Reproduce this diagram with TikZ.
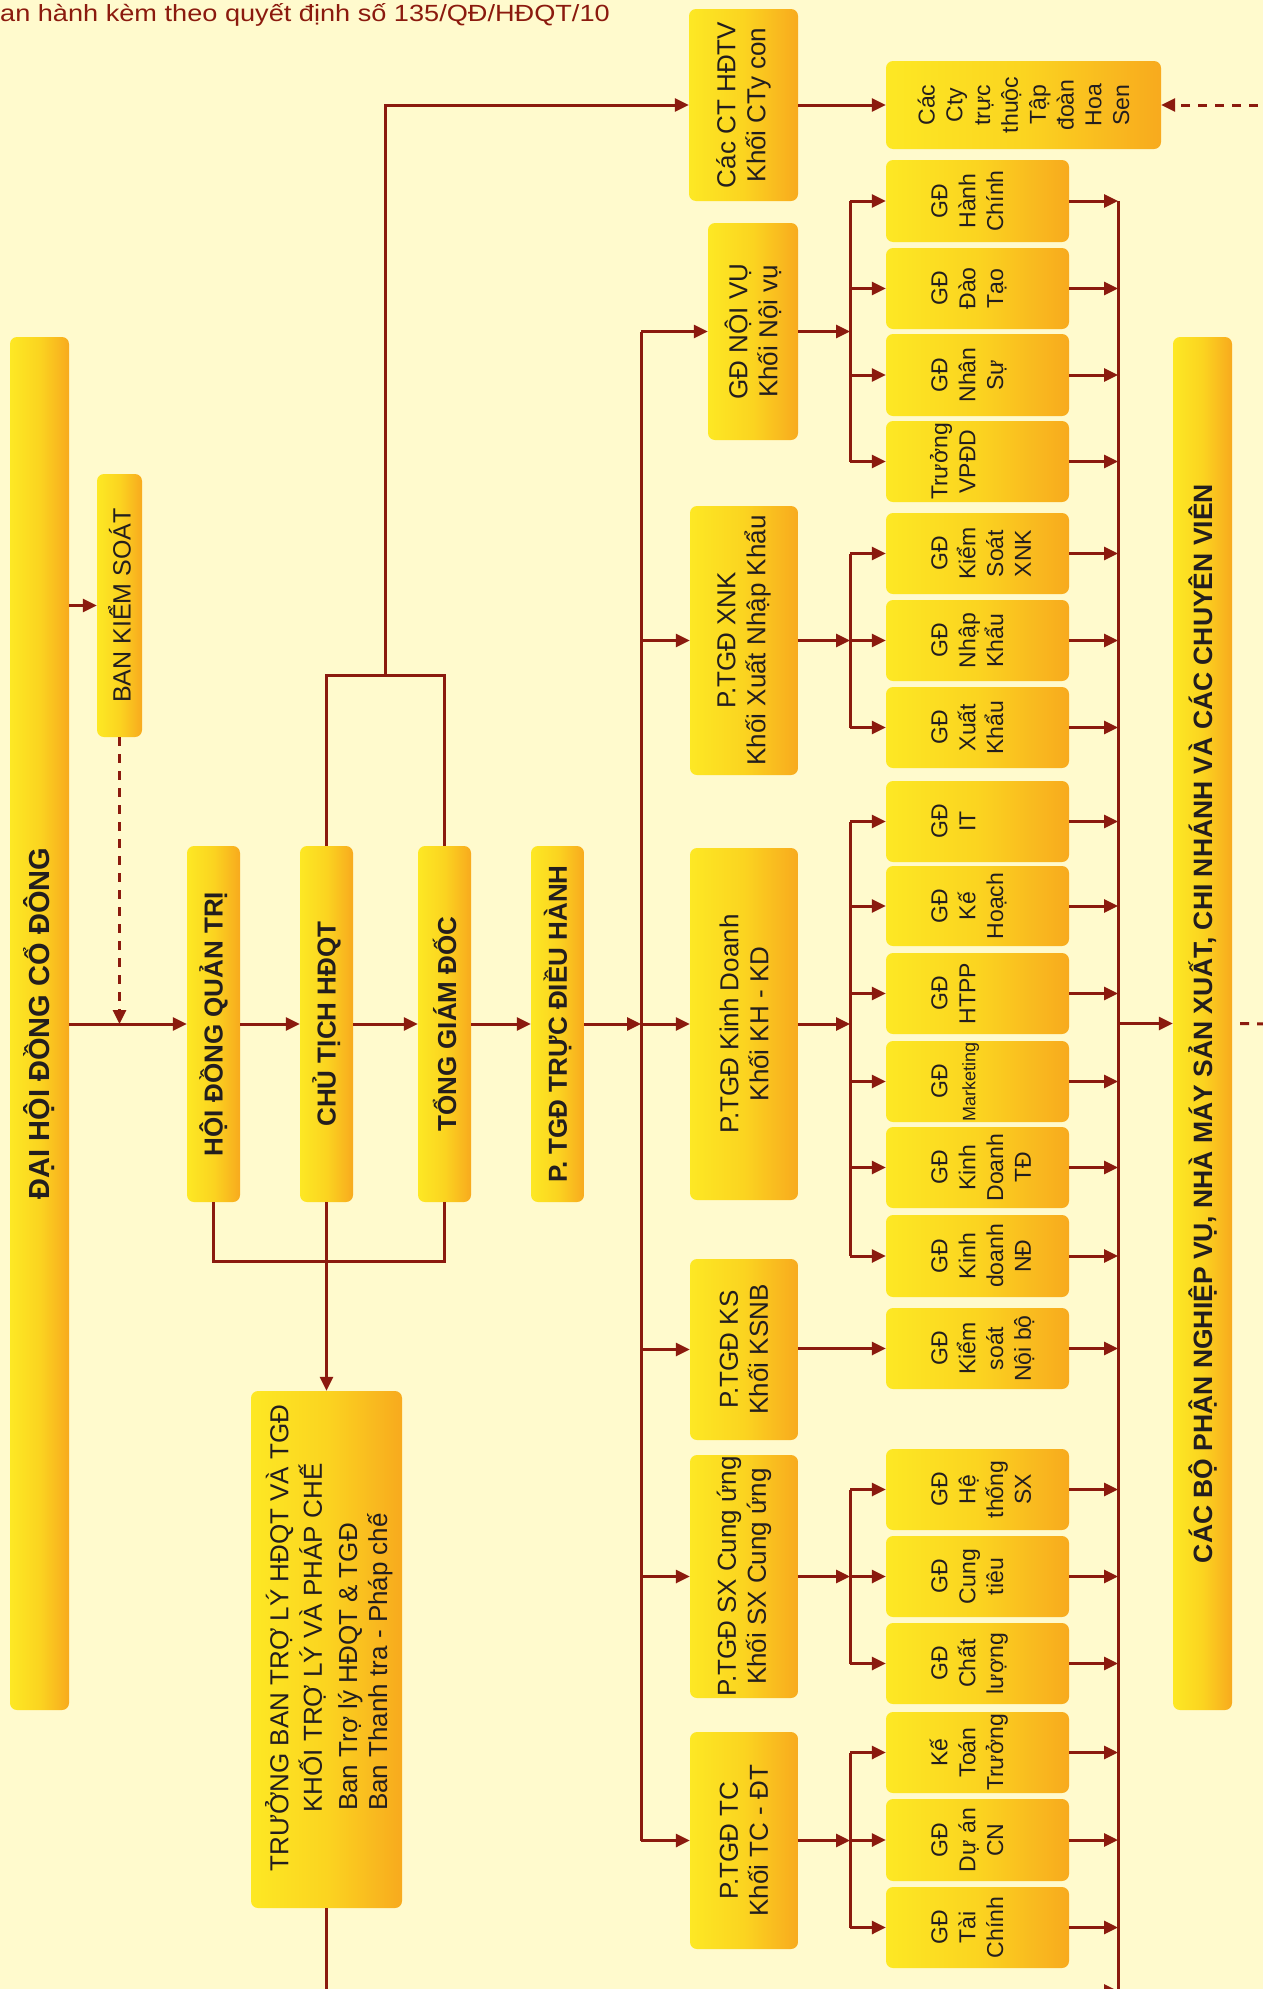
\documentclass[tikz,border=0pt]{standalone}
\usepackage{fontspec}
\setmainfont{Liberation Sans}
\newfontfamily\hdrfont[FakeStretch=1.16]{Liberation Sans}
\usetikzlibrary{arrows.meta}
\definecolor{bgc}{RGB}{255,250,205}
\definecolor{dred}{RGB}{139,26,14}
\definecolor{ylw}{RGB}{253,232,36}
\definecolor{ymid}{RGB}{251,212,32}
\definecolor{org}{RGB}{248,170,30}
\definecolor{txtc}{RGB}{35,30,30}
\newcommand\mkbox[5]{\node[yb, minimum width={(#3-#2)*1pt}, minimum height={(#5-#4)*1pt}] (#1) at ({(#2+#3)/2},{(#4+#5)/2}) {};}
\newcommand\subtxt[2]{\node[subt, anchor=north] at ([xshift=42pt]#1.west) {\strut #2};}
\begin{document}
\begin{tikzpicture}[x=1pt,y=-1pt,
  yb/.style={rectangle, rounded corners=7pt, draw=none, inner sep=0pt, left color=ylw, right color=org, middle color=ymid},
  boldt/.style={text=txtc, rotate=90, inner sep=0pt, font=\fontsize{26}{30}\selectfont\bfseries},
  regt/.style={text=txtc, rotate=90, inner sep=0pt, align=center, font=\fontsize{26}{30}\selectfont},
  subt/.style={text=txtc, rotate=90, inner sep=0pt, align=center, font=\fontsize{23}{27.8}\selectfont},
  ln/.style={draw=dred, line width=3pt},
  arr/.style={ln, -{Triangle[length=14pt,width=13pt]}},
  dsh/.style={draw=dred, line width=3pt, dash pattern=on 9pt off 8pt}]
\useasboundingbox (0,0) rectangle (1263,1989);
\clip (0,0) rectangle (1263,1989);
\fill[bgc] (0,0) rectangle (1263,1989);

% header
\node[anchor=base west, inner sep=0pt, text=dred, font=\hdrfont\fontsize{23.4}{28}\selectfont] (hdr) at (0,21) {an hành kèm theo quyết định số 135/QĐ/HĐQT/10};

% left column boxes
\mkbox{dhcd}{10}{69}{337}{1710}
\mkbox{bks}{97}{142}{474}{737}
\mkbox{hdqt}{187}{240}{846}{1202}
\mkbox{ctich}{300}{353}{846}{1202}
\mkbox{tgd}{418}{471}{846}{1202}
\mkbox{truc}{531}{584}{846}{1202}
\mkbox{tban}{251}{402}{1391}{1908}

% P.TGD column
\mkbox{cthdtv}{689}{798}{9}{201}
\mkbox{noivu}{708}{798}{223}{440}
\mkbox{xnk}{690}{798}{506}{775}
\mkbox{kd}{690}{798}{848}{1200}
\mkbox{ks}{690}{798}{1259}{1440}
\mkbox{sx}{690}{798}{1455}{1698}
\mkbox{tc}{690}{798}{1732}{1949}

% sub boxes
\mkbox{cty}{886}{1161}{61}{149}
\mkbox{hc}{886}{1069}{160}{242}
\mkbox{dt}{886}{1069}{248}{329}
\mkbox{ns}{886}{1069}{334}{416}
\mkbox{vpdd}{886}{1069}{421}{502}
\mkbox{ksx}{886}{1069}{513}{594}
\mkbox{nk}{886}{1069}{600}{681}
\mkbox{xk}{886}{1069}{687}{768}
\mkbox{it}{886}{1069}{781}{862}
\mkbox{kh}{886}{1069}{866}{946}
\mkbox{htpp}{886}{1069}{953}{1034}
\mkbox{mkt}{886}{1069}{1041}{1122}
\mkbox{kdtd}{886}{1069}{1127}{1208}
\mkbox{kdnd}{886}{1069}{1215}{1297}
\mkbox{ksnb}{886}{1069}{1308}{1389}
\mkbox{htsx}{886}{1069}{1449}{1530}
\mkbox{cti}{886}{1069}{1536}{1617}
\mkbox{cl}{886}{1069}{1623}{1704}
\mkbox{ktt}{886}{1069}{1712}{1793}
\mkbox{da}{886}{1069}{1799}{1881}
\mkbox{tch}{886}{1069}{1887}{1968}

% right big box
\mkbox{cbp}{1173}{1232}{337}{1710}

% texts
\node[boldt, font=\fontsize{29}{33}\selectfont\bfseries] at (dhcd) {ĐẠI HỘI ĐỒNG CỔ ĐÔNG};
\node[regt, font=\fontsize{25}{30}\selectfont] at (bks) {BAN KIỂM SOÁT};
\node[boldt] at (hdqt) {HỘI ĐỒNG QUẢN TRỊ};
\node[boldt] at (ctich) {CHỦ TỊCH HĐQT};
\node[boldt] at (tgd) {TỔNG GIÁM ĐỐC};
\node[boldt] at (truc) {P. TGĐ TRỰC ĐIỀU HÀNH};
\node[boldt, font=\fontsize{26.5}{30}\selectfont\bfseries] at (cbp) {CÁC BỘ PHẬN NGHIỆP VỤ, NHÀ MÁY SẢN XUẤT, CHI NHÁNH VÀ CÁC CHUYÊN VIÊN};
\node[regt, anchor=north] at (265,1638) {\strut TRƯỞNG BAN TRỢ LÝ HĐQT VÀ TGĐ\\KHỐI TRỢ LÝ VÀ PHÁP CHẾ};
\node[regt, anchor=north west, align=left] at (336,1811) {\strut Ban Trợ lý HĐQT \& TGĐ\\Ban Thanh tra - Pháp chế};

\node[regt] at (cthdtv) {Các CT HĐTV\\Khối CTy con};
\node[regt] at (noivu) {GĐ NỘI VỤ\\Khối Nội vụ};
\node[regt] at (xnk) {P.TGĐ XNK\\Khối Xuất Nhập Khẩu};
\node[regt] at (kd) {P.TGĐ Kinh Doanh\\Khối KH - KD};
\node[regt] at (ks) {P.TGĐ KS\\Khối KSNB};
\node[regt] at (sx) {P.TGĐ SX Cung ứng\\Khối SX Cung ứng};
\node[regt] at (tc) {P.TGĐ TC\\Khối TC - ĐT};

\node[subt] at (cty) {Các\\Cty\\trực\\thuộc\\Tập\\đoàn\\Hoa\\Sen};
\subtxt{hc}{GĐ\\Hành\\Chính}
\subtxt{dt}{GĐ\\Đào\\Tạo}
\subtxt{ns}{GĐ\\Nhân\\Sự}
\subtxt{vpdd}{Trưởng\\VPĐD}
\subtxt{ksx}{GĐ\\Kiểm\\Soát\\XNK}
\subtxt{nk}{GĐ\\Nhập\\Khẩu}
\subtxt{xk}{GĐ\\Xuất\\Khẩu}
\subtxt{it}{GĐ\\IT}
\subtxt{kh}{GĐ\\Kế\\Hoạch}
\subtxt{htpp}{GĐ\\HTPP}
\subtxt{mkt}{GĐ\\{\fontsize{18}{20}\selectfont Marketing}}
\subtxt{kdtd}{GĐ\\Kinh\\Doanh\\TĐ}
\subtxt{kdnd}{GĐ\\Kinh\\doanh\\NĐ}
\subtxt{ksnb}{GĐ\\Kiểm\\soát\\Nội bộ}
\subtxt{htsx}{GĐ\\Hệ\\thống\\SX}
\subtxt{cti}{GĐ\\Cung\\tiêu}
\subtxt{cl}{GĐ\\Chất\\lượng}
\subtxt{ktt}{Kế\\Toán\\Trưởng}
\subtxt{da}{GĐ\\Dự án\\CN}
\subtxt{tch}{GĐ\\Tài\\Chính}

% bus coordinates
\coordinate (pbus) at (641,0);
\coordinate (sbus) at (850,0);
\coordinate (rbus) at (1118,0);
\coordinate (topbr) at (385,675);
\coordinate (botbr) at (0,1261);
\coordinate (bottom) at (0,1995);
\coordinate (redgeA) at (1275,105);
\coordinate (redgeB) at (1275,1024);
\coordinate (cutA) at (1069,1991);

% left chain
\draw[arr] (bks.west -| dhcd.east) -- (bks.west);
\draw[dsh, -{Triangle[length=14pt,width=13pt]}] (bks.south) -- (bks.south |- hdqt.west);
\draw[arr] (hdqt.west -| dhcd.east) -- (hdqt.west);
\draw[arr] (hdqt.east) -- (ctich.west);
\draw[arr] (ctich.east) -- (tgd.west);
\draw[arr] (tgd.east) -- (truc.west);
\draw[arr] (truc.east) -- (truc.east -| pbus);

% top bracket
\draw[ln] (ctich.north) -- (ctich.north |- topbr) -- (tgd.north |- topbr) -- (tgd.north);
\draw[arr] (topbr) |- (cthdtv.west);
% bottom bracket
\draw[ln] (hdqt.south) -- (hdqt.south |- botbr) -- (tgd.south |- botbr) -- (tgd.south);
\draw[arr] (ctich.south) -- (tban.north);
\draw[ln] (tban.south) -- (tban.south |- bottom);

% P.TGD bus
\draw[ln] (noivu.west -| pbus) -- (tc.west -| pbus);
\foreach \b in {noivu,xnk,kd,ks,sx,tc} {\draw[arr] (\b.west -| pbus) -- (\b.west);}

% Cty
\draw[arr] (cthdtv.east |- cty.west) -- (cty.west);
\draw[dsh, -{Triangle[length=14pt,width=13pt]}] (redgeA) -- (cty.east);

% sub buses
\draw[ln] (hc.west -| sbus) -- (vpdd.west -| sbus);
\draw[arr] (noivu.east) -- (noivu.east -| sbus);
\foreach \b in {hc,dt,ns,vpdd} {\draw[arr] (\b.west -| sbus) -- (\b.west);}

\draw[ln] (ksx.west -| sbus) -- (xk.west -| sbus);
\draw[arr] (xnk.east) -- (xnk.east -| sbus);
\foreach \b in {ksx,nk,xk} {\draw[arr] (\b.west -| sbus) -- (\b.west);}

\draw[ln] (it.west -| sbus) -- (kdnd.west -| sbus);
\draw[arr] (kd.east) -- (kd.east -| sbus);
\foreach \b in {it,kh,htpp,mkt,kdtd,kdnd} {\draw[arr] (\b.west -| sbus) -- (\b.west);}

\draw[arr] (ks.east |- ksnb.west) -- (ksnb.west);

\draw[ln] (htsx.west -| sbus) -- (cl.west -| sbus);
\draw[arr] (sx.east) -- (sx.east -| sbus);
\foreach \b in {htsx,cti,cl} {\draw[arr] (\b.west -| sbus) -- (\b.west);}

\draw[ln] (ktt.west -| sbus) -- (tch.west -| sbus);
\draw[arr] (tc.east) -- (tc.east -| sbus);
\foreach \b in {ktt,da,tch} {\draw[arr] (\b.west -| sbus) -- (\b.west);}

% right bus
\draw[ln] (hc.east -| rbus) -- (rbus |- bottom);
\foreach \b in {hc,dt,ns,vpdd,ksx,nk,xk,it,kh,htpp,mkt,kdtd,kdnd,ksnb,htsx,cti,cl,ktt,da,tch} {\draw[arr] (\b.east) -- (\b.east -| rbus);}
\draw[arr] (cutA) -- (cutA -| rbus);
\draw[arr] (cbp.west -| rbus) -- (cbp.west);
\draw[dsh] ([xshift=8pt]cbp.east) -- (redgeB);
\end{tikzpicture}
\end{document}
